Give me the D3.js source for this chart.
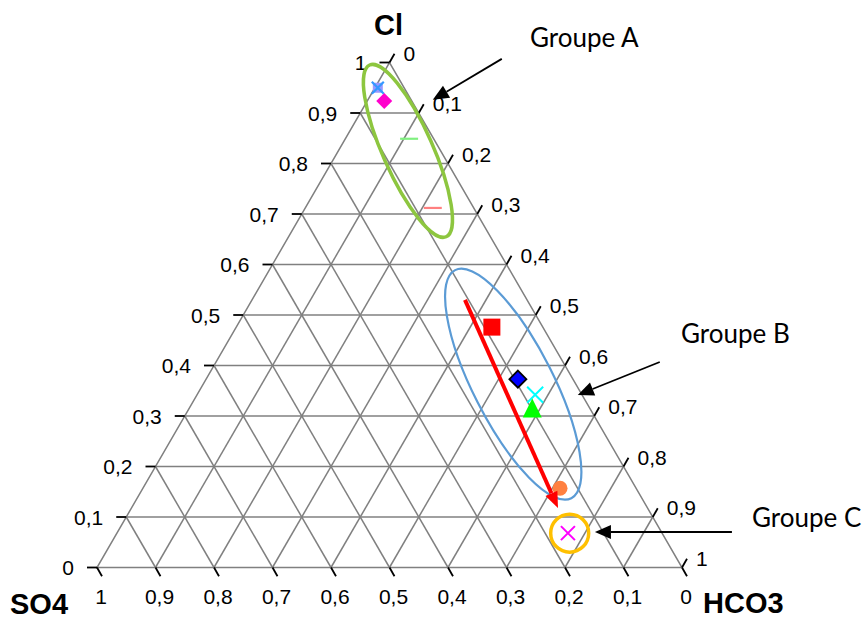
<!DOCTYPE html>
<html>
<head>
<meta charset="utf-8">
<script src="https://cdn.jsdelivr.net/npm/d3@7"></script>
<style>
  body { margin: 0; background: #fff; }
  svg { display: block; }
</style>
</head>
<body>
<div id="chart"></div>
<script>
// sample compositions (fractions)
const sampleIds  = ["S1", "S2", "S3", "S4", "S5", "S6", "S7", "S8", "S9", "S10"];
const clValues   = [0.950, 0.924, 0.849, 0.712, 0.476, 0.373, 0.342, 0.316, 0.157, 0.068];
const so4Values  = [0.045, 0.047, 0.042, 0.070, 0.087, 0.094, 0.080, 0.098, 0.130, 0.161];
const hco3Values = [0.005, 0.029, 0.109, 0.218, 0.437, 0.533, 0.578, 0.586, 0.713, 0.771];

// axis ticks
const tickValues = [0, 0.1, 0.2, 0.3, 0.4, 0.5, 0.6, 0.7, 0.8, 0.9, 1];

// trend arrow (Cl, HCO3) start -> end
const trendCl   = [0.530, 0.118];
const trendHco3 = [0.364, 0.729];

// groups
const groupLabels = ["Groupe A", "Groupe B", "Groupe C"];
const groupCl     = [0.825, 0.363, 0.068];   // centre of ring
const groupHco3   = [0.119, 0.530, 0.774];
const pointerCl   = [0.926, 0.3416, 0.0703]; // arrow tips
const pointerHco3 = [0.111, 0.651, 0.816];

// marker styles, same order as samples
const markerStyles = [
  { type: "square+x", fill: "#9999ff", stroke: "#3399ff", size: 10 },
  { type: "diamond", fill: "#ff00cc", size: 8 },
  { type: "dash", stroke: "#80f080", size: 9 },
  { type: "dash", stroke: "#ff8080", size: 9 },
  { type: "square", fill: "#ff0000", size: 17 },
  { type: "diamond", fill: "#0000ff", stroke: "#000", size: 8.5 },
  { type: "x", stroke: "#00ffff", size: 8 },
  { type: "triangle", fill: "#00ff00", size: 19 },
  { type: "circle", fill: "#ff8040", size: 7.5 },
  { type: "x", stroke: "#ff00ff", size: 7 }
];

const width = 867, height = 619;
const svg = d3.select("#chart").append("svg")
  .attr("width", width)
  .attr("height", height);
svg.append("rect").attr("width", width).attr("height", height).attr("fill", "#fff");

// x scale works on (HCO3 + Cl/2), y scale on Cl
const x = d3.scaleLinear().domain([0, 1]).range([97, 682]);
const y = d3.scaleLinear().domain([0, 1]).range([567.5, 62.5]);
function proj(cl, hco3) { return [x(hco3 + cl / 2), y(cl)]; }

const fr = d3.formatLocale({ decimal: ",", thousands: " ", grouping: [3], currency: ["", ""] });
const fmt = fr.format(".1~f");

// grid
const grid = svg.append("g").attr("stroke", "#808080").attr("stroke-width", 1.5).attr("fill", "none");
const inner = tickValues.slice(1, -1);
const gridLines = [];
inner.forEach(v => {
  gridLines.push([proj(v, 0), proj(v, 1 - v)]);       // Cl constant
  gridLines.push([proj(0, v), proj(1 - v, v)]);       // HCO3 constant
  gridLines.push([proj(0, 1 - v), proj(1 - v, 0)]);   // SO4 constant
});
grid.selectAll("line").data(gridLines).enter().append("line")
  .attr("x1", d => d[0][0]).attr("y1", d => d[0][1])
  .attr("x2", d => d[1][0]).attr("y2", d => d[1][1]);
grid.append("path")
  .attr("d", d3.line()([proj(0, 0), proj(0, 1), proj(1, 0)]) + "Z");

// axes
const ax = svg.append("g");
const tickLen = 10;
const labelFont = "'Liberation Sans', Arial, sans-serif";
const labelSize = 21;

// left axis: Cl
tickValues.forEach(v => {
  const p = proj(v, 0);
  ax.append("line").attr("x1", p[0] - tickLen).attr("y1", p[1]).attr("x2", p[0]).attr("y2", p[1])
    .attr("stroke", "#000").attr("stroke-width", 1.8);
  ax.append("text").attr("x", p[0] - 23).attr("y", p[1] + 7.5)
    .attr("text-anchor", "end").attr("font-family", labelFont).attr("font-size", labelSize)
    .text(fmt(v));
});
// bottom axis: SO4
tickValues.forEach(v => {
  const p = proj(0, 1 - v);
  ax.append("line").attr("x1", p[0]).attr("y1", p[1]).attr("x2", p[0] + 5).attr("y2", p[1] + 8.7)
    .attr("stroke", "#000").attr("stroke-width", 1.8);
  ax.append("text").attr("x", p[0] + 4).attr("y", 604)
    .attr("text-anchor", "middle").attr("font-family", labelFont).attr("font-size", labelSize)
    .text(fmt(v));
});
// right axis: HCO3
tickValues.forEach(v => {
  const p = proj(1 - v, v);
  ax.append("line").attr("x1", p[0]).attr("y1", p[1]).attr("x2", p[0] + 5).attr("y2", p[1] - 8.7)
    .attr("stroke", "#000").attr("stroke-width", 1.8);
  ax.append("text").attr("x", p[0] + 14).attr("y", p[1] - 2)
    .attr("text-anchor", "start").attr("font-family", labelFont).attr("font-size", labelSize)
    .text(fmt(v));
});

// titles
const titleFont = { "font-family": labelFont, "font-size": 29, "font-weight": "bold" };
function title(t, tx, ty, anchor) {
  const el = svg.append("text").attr("x", tx).attr("y", ty).attr("text-anchor", anchor).text(t);
  Object.entries(titleFont).forEach(([k, v]) => el.attr(k, v));
}
title("Cl", proj(1, 0)[0] - 1, 35, "middle");
title("SO4", 10, 614, "start");
title("HCO3", 703, 613, "start");

// group rings
const ringStyles = [
  { stroke: "#8dc63f", rx: 94, ry: 25, angle: 66, width: 3.5 },
  { stroke: "#5b9bd5", rx: 128, ry: 40, angle: 63, width: 2.2 },
  { stroke: "#ffc000", rx: 19, ry: 19, angle: 0, width: 3.5 }
];
groupLabels.forEach((g, i) => {
  const c = proj(groupCl[i], groupHco3[i]);
  const s = ringStyles[i];
  svg.append("ellipse")
    .attr("cx", 0).attr("cy", 0).attr("rx", s.rx).attr("ry", s.ry)
    .attr("transform", `translate(${c[0]},${c[1]}) rotate(${s.angle})`)
    .attr("fill", "none").attr("stroke", s.stroke).attr("stroke-width", s.width);
});

function arrowHead(g, tip, from, len, wid, color) {
  const dx = tip[0] - from[0], dy = tip[1] - from[1];
  const L = Math.hypot(dx, dy), ux = dx / L, uy = dy / L;
  const bx = tip[0] - ux * len, by = tip[1] - uy * len;
  g.append("path")
    .attr("d", `M${tip[0]},${tip[1]}L${bx - uy * wid / 2},${by + ux * wid / 2}L${bx + uy * wid / 2},${by - ux * wid / 2}Z`)
    .attr("fill", color);
  return [bx, by];
}

// markers
const mk = svg.append("g");
sampleIds.forEach((id, i) => {
  const p = proj(clValues[i], hco3Values[i]);
  const s = markerStyles[i];
  const g = mk.append("g").attr("transform", `translate(${p[0]},${p[1]})`);
  const r = s.size;
  if (s.type === "square" || s.type === "square+x") {
    g.append("rect").attr("x", -r / 2).attr("y", -r / 2).attr("width", r).attr("height", r).attr("fill", s.fill);
  }
  if (s.type === "square+x") {
    g.append("path").attr("d", `M${-6},${-6}L6,6M${-6},6L6,${-6}`)
      .attr("stroke", s.stroke).attr("stroke-width", 2.2);
  }
  if (s.type === "diamond") {
    g.append("path").attr("d", `M0,${-r}L${r},0L0,${r}L${-r},0Z`)
      .attr("fill", s.fill).attr("stroke", s.stroke || "none").attr("stroke-width", 1.8);
  }
  if (s.type === "dash") {
    g.append("line").attr("x1", -r).attr("x2", r).attr("stroke", s.stroke).attr("stroke-width", 2.2);
  }
  if (s.type === "x") {
    g.append("path").attr("d", `M${-r},${-r}L${r},${r}M${-r},${r}L${r},${-r}`)
      .attr("stroke", s.stroke).attr("stroke-width", 2);
  }
  if (s.type === "triangle") {
    g.append("path").attr("d", `M0,${-r / 2}L${r / 2},${r / 2}L${-r / 2},${r / 2}Z`).attr("fill", s.fill);
  }
  if (s.type === "circle") {
    g.append("circle").attr("r", r).attr("fill", s.fill);
  }
});

// trend arrow
const tStart = proj(trendCl[0], trendHco3[0]);
const tEnd = proj(trendCl[1], trendHco3[1]);
const trend = svg.append("g");
const tBase = arrowHead(trend, tEnd, tStart, 16, 13, "#ff0000");
trend.append("line")
  .attr("x1", tStart[0]).attr("y1", tStart[1]).attr("x2", tBase[0]).attr("y2", tBase[1])
  .attr("stroke", "#ff0000").attr("stroke-width", 4);

// group pointers and labels
const pointerTails = [[69, -41], [82, -33], [137, 0]];
const labelPos = [[530, 47], [681, 343], [752, 527]];
const ann = svg.append("g");
groupLabels.forEach((g, i) => {
  const tip = proj(pointerCl[i], pointerHco3[i]);
  const tail = [tip[0] + pointerTails[i][0], tip[1] + pointerTails[i][1]];
  const base = arrowHead(ann, tip, tail, 16, 14, "#000");
  ann.append("line").attr("x1", tail[0]).attr("y1", tail[1]).attr("x2", base[0]).attr("y2", base[1])
    .attr("stroke", "#000").attr("stroke-width", 1.8);
  ann.append("text").attr("x", labelPos[i][0]).attr("y", labelPos[i][1])
    .attr("font-family", "Lato, 'Open Sans', sans-serif").attr("font-size", 26)
    .text(g);
});
</script>
</body>
</html>
